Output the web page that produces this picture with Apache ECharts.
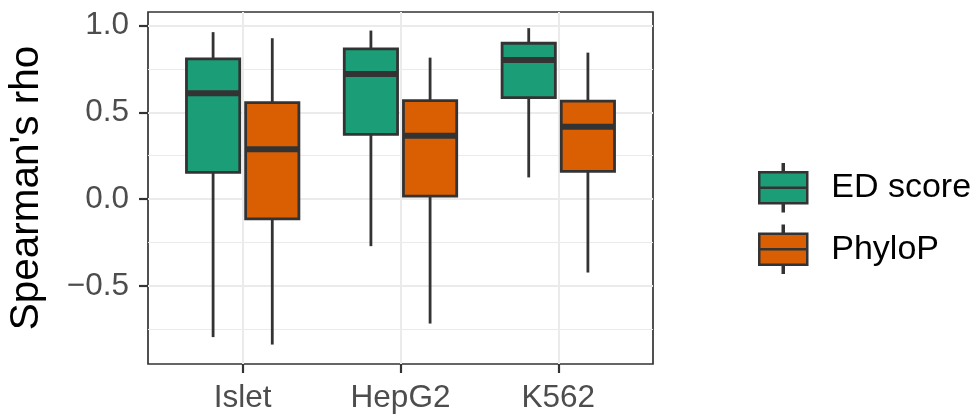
<!DOCTYPE html>
<html>
<head>
<meta charset="utf-8">
<script src="https://cdn.jsdelivr.net/npm/echarts@6/dist/echarts.min.js"></script>
<style>
  html, body { margin: 0; padding: 0; background: #fff; }
  #chart { width: 977px; height: 414px; }
</style>
</head>
<body>
<div id="chart"></div>
<script>
// categories and five-number summaries [min, Q1, median, Q3, max]
const categories = ['Islet', 'HepG2', 'K562'];
const edScore = [
  [-0.795, 0.154, 0.610, 0.808, 0.962],
  [-0.271, 0.373, 0.721, 0.866, 0.971],
  [0.125, 0.585, 0.802, 0.898, 0.985]
];
const phyloP = [
  [-0.838, -0.114, 0.287, 0.556, 0.927],
  [-0.717, 0.017, 0.365, 0.567, 0.815],
  [-0.423, 0.160, 0.417, 0.564, 0.844]
];
const yTicks = [-0.5, 0, 0.5, 1];
const yMinorTicks = [-0.75, -0.25, 0.25, 0.75];

const FONT = '"Liberation Sans", Arial, Helvetica, sans-serif';
const EDGE = '#333333';
const GREEN = '#1B9E77';
const ORANGE = '#D95F02';
const BOX_HALF = 0.16875;   // half of box width in category units
const DODGE = 0.1875;

function boxRenderer(offset, color) {
  return function (params, api) {
    const x = api.value(0) + offset;
    const lo = api.coord([x - BOX_HALF, api.value(2)]);
    const hi = api.coord([x + BOX_HALF, api.value(4)]);
    const mid = api.coord([x, api.value(3)]);
    const top = api.coord([x, api.value(5)]);
    const bot = api.coord([x, api.value(1)]);
    const line = { stroke: EDGE, lineWidth: 2.8, lineCap: 'butt' };
    return {
      type: 'group',
      children: [
        { type: 'line', shape: { x1: mid[0], y1: hi[1], x2: mid[0], y2: top[1] }, style: line },
        { type: 'line', shape: { x1: mid[0], y1: lo[1], x2: mid[0], y2: bot[1] }, style: line },
        {
          type: 'rect',
          shape: { x: lo[0], y: hi[1], width: hi[0] - lo[0], height: lo[1] - hi[1] },
          style: { fill: color, stroke: EDGE, lineWidth: 2.8 }
        },
        { type: 'line', shape: { x1: lo[0], y1: mid[1], x2: hi[0], y2: mid[1] },
          style: { stroke: EDGE, lineWidth: 6, lineCap: 'butt' } }
      ]
    };
  };
}

function toData(arr) {
  return arr.map((d, i) => [i + 1].concat(d));
}

const keyIcon = 'path://M23.5 0L24.5 0L24.5 8L23.5 8Z M0 8L48 8L48 23.5L0 23.5Z M0 23.5L48 23.5L48 39L0 39Z M23.5 39L24.5 39L24.5 47L23.5 47Z';

const chart = echarts.init(document.getElementById('chart'), null, { renderer: 'canvas' });

const option = {
  backgroundColor: '#ffffff',
  animation: false,
  textStyle: { fontFamily: FONT },
  grid: {
    left: 148, right: 324, top: 12, bottom: 50,
    outerBoundsMode: 'none',
    containLabel: false,
    show: true, borderColor: EDGE, borderWidth: 1.7, backgroundColor: 'transparent'
  },
  legend: {
    orient: 'vertical',
    left: 753,
    top: 158,
    itemWidth: 48,
    itemHeight: 47,
    itemGap: 12,
    textStyle: { fontFamily: FONT, fontSize: 34, color: '#000', padding: [0, 0, 0, 19] },
    data: [
      { name: 'ED score', icon: keyIcon, itemStyle: { color: GREEN, borderColor: EDGE, borderWidth: 2.5 } },
      { name: 'PhyloP', icon: keyIcon, itemStyle: { color: ORANGE, borderColor: EDGE, borderWidth: 2.5 } }
    ]
  },
  xAxis: {
    type: 'value',
    min: 0.4,
    max: 3.6,
    axisLine: { show: false, onZero: false },
    axisTick: { show: true, length: 9, customValues: [1, 2, 3], lineStyle: { color: EDGE, width: 2.2 } },
    axisLabel: {
      customValues: [1, 2, 3],
      formatter: v => categories[Math.round(v) - 1],
      fontFamily: FONT, fontSize: 31.5, color: '#4D4D4D', margin: 18
    },
    splitLine: { show: true, lineStyle: { color: '#EBEBEB', width: 2 } }
  },
  yAxis: [
    {
      type: 'value',
      min: -0.95,
      max: 1.078,
      name: "Spearman's rho",
      nameLocation: 'middle',
      nameGap: 101,
      nameTextStyle: { fontFamily: FONT, fontSize: 40.5, color: '#000' },
      axisLine: { show: false, onZero: false },
      axisTick: { show: true, length: 9, customValues: yTicks, lineStyle: { color: EDGE, width: 2.2 } },
      axisLabel: {
        customValues: yTicks,
        formatter: v => (v < 0 ? '\u2212' : '') + Math.abs(v).toFixed(1),
        fontFamily: FONT, fontSize: 31.5, color: '#4D4D4D', margin: 19
      },
      splitLine: { show: true, lineStyle: { color: '#EBEBEB', width: 2 } }
    },
    {
      type: 'value',
      min: -0.95,
      max: 1.078,
      position: 'left',
      axisLine: { show: false, onZero: false },
      axisTick: { show: false, customValues: yMinorTicks },
      axisLabel: { show: false, customValues: yMinorTicks },
      splitLine: { show: true, lineStyle: { color: '#EBEBEB', width: 1.2 } }
    }
  ],
  series: [
    {
      name: 'ED score',
      type: 'custom',
      color: GREEN,
      renderItem: boxRenderer(-DODGE, GREEN),
      encode: { x: 0, y: [1, 2, 3, 4, 5] },
      data: toData(edScore),
      z: 3
    },
    {
      name: 'PhyloP',
      type: 'custom',
      color: ORANGE,
      renderItem: boxRenderer(DODGE, ORANGE),
      encode: { x: 0, y: [1, 2, 3, 4, 5] },
      data: toData(phyloP),
      z: 3
    }
  ]
};

chart.setOption(option);
</script>
</body>
</html>
